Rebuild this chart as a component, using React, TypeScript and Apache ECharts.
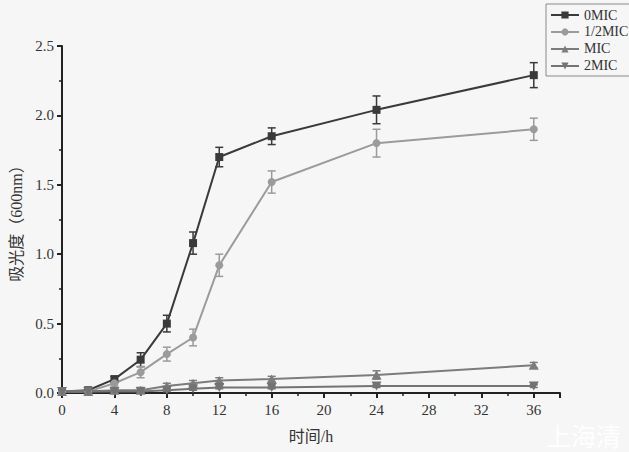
import React, { useEffect, useRef } from "react";
import * as echarts from "echarts";

const hours = [0, 2, 4, 6, 8, 10, 12, 16, 24, 36];
const seriesNames = ["0MIC", "1/2MIC", "MIC", "2MIC"];
const mic0 = [0.01, 0.02, 0.1, 0.24, 0.5, 1.08, 1.7, 1.85, 2.04, 2.29];
const mic0Err = [0.01, 0.01, 0.02, 0.05, 0.06, 0.08, 0.07, 0.06, 0.1, 0.09];
const micHalf = [0.01, 0.01, 0.07, 0.15, 0.28, 0.4, 0.92, 1.52, 1.8, 1.9];
const micHalfErr = [0.01, 0.01, 0.02, 0.04, 0.05, 0.06, 0.08, 0.08, 0.1, 0.08];
const mic1 = [0.01, 0.01, 0.02, 0.02, 0.05, 0.07, 0.09, 0.1, 0.13, 0.2];
const mic1Err = [0.01, 0.01, 0.01, 0.02, 0.02, 0.02, 0.02, 0.02, 0.03, 0.02];
const mic2 = [0.01, 0.01, 0.01, 0.01, 0.02, 0.03, 0.04, 0.04, 0.05, 0.05];
const mic2Err = [0.01, 0.01, 0.01, 0.01, 0.01, 0.01, 0.01, 0.01, 0.01, 0.01];
const xTicks = [0, 4, 8, 12, 16, 20, 24, 28, 32, 36];

const colors = ["#3a3a3a", "#9b9b9b", "#7c7c7c", "#737373"];
const symbols = ["rect", "circle", "triangle", "path://M0,0 L10,0 L5,9 Z"];
const values = [mic0, micHalf, mic1, mic2];
const errs = [mic0Err, micHalfErr, mic1Err, mic2Err];

const FONT = "Liberation Serif, Noto Sans CJK SC, serif";

export default function App() {
  const ref = useRef<HTMLDivElement>(null);
  useEffect(() => {
    const chart = echarts.init(ref.current!, undefined, { renderer: "svg" });
    const series: any[] = [];
    values.forEach((vals, si) => {
      series.push({
        type: "custom",
        name: seriesNames[si] + "-err",
        silent: true,
        z: 1,
        data: hours.map((h, i) => [h, vals[i] - errs[si][i], vals[i] + errs[si][i]]),
        renderItem: (params: any, api: any) => {
          const x = api.value(0);
          const lo = api.coord([x, api.value(1)]);
          const hi = api.coord([x, api.value(2)]);
          const hw = 4;
          const style = { stroke: colors[si], lineWidth: 1.5 };
          return {
            type: "group",
            children: [
              { type: "line", shape: { x1: lo[0], y1: lo[1], x2: hi[0], y2: hi[1] }, style },
              { type: "line", shape: { x1: lo[0] - hw, y1: lo[1], x2: lo[0] + hw, y2: lo[1] }, style },
              { type: "line", shape: { x1: hi[0] - hw, y1: hi[1], x2: hi[0] + hw, y2: hi[1] }, style },
            ],
          };
        },
      });
      series.push({
        type: "line",
        name: seriesNames[si],
        data: hours.map((h, i) => [h, vals[i]]),
        symbol: symbols[si],
        symbolSize: si >= 2 ? [10, 9] : 8,
        z: 3,
        lineStyle: { color: colors[si], width: 2 },
        itemStyle: { color: colors[si] },
      });
    });
    chart.setOption({
      animation: false,
      backgroundColor: "#f6f6f6",
      grid: { left: 56, right: 69, top: 46, bottom: 59, containLabel: false },
      legend: {
        data: seriesNames,
        orient: "vertical",
        left: 546,
        top: 4,
        itemWidth: 28,
        itemHeight: 9,
        itemGap: 3,
        padding: [4, 3, 3, 4],
        borderColor: "#8a8a8a",
        borderWidth: 1,
        textStyle: { fontFamily: FONT, fontSize: 14, color: "#333" },
      },
      xAxis: {
        type: "value",
        min: 0,
        max: 38,
        interval: 4,
        name: "时间/h",
        nameLocation: "middle",
        nameGap: 35,
        nameTextStyle: { fontFamily: FONT, fontSize: 16, color: "#333" },
        axisLine: { show: true, lineStyle: { color: "#222", width: 2 } },
        axisTick: { show: true, inside: false, length: 5, lineStyle: { color: "#222", width: 2 } },
        minorTick: { show: true, splitNumber: 2, length: 3, lineStyle: { color: "#222", width: 1.5 } },
        axisLabel: {
          fontFamily: FONT,
          fontSize: 15,
          color: "#333",
          margin: 9,
          formatter: (v: number) => (xTicks.includes(v) ? String(v) : ""),
        },
        splitLine: { show: false },
      },
      yAxis: {
        type: "value",
        min: 0,
        max: 2.5,
        interval: 0.5,
        name: "吸光度（600nm）",
        nameLocation: "middle",
        nameGap: 38,
        nameTextStyle: { fontFamily: FONT, fontSize: 16, color: "#333" },
        axisLine: { show: true, lineStyle: { color: "#222", width: 2 } },
        axisTick: { show: true, inside: false, length: 5, lineStyle: { color: "#222", width: 2 } },
        minorTick: { show: true, splitNumber: 2, length: 3, lineStyle: { color: "#222", width: 1.5 } },
        axisLabel: {
          fontFamily: FONT,
          fontSize: 15,
          color: "#333",
          margin: 8,
          formatter: (v: number) => v.toFixed(1),
        },
        splitLine: { show: false },
      },
      graphic: [
        {
          type: "text",
          left: 546,
          top: 422,
          silent: true,
          style: {
            text: "上海清",
            fill: "rgba(255,255,255,0.95)",
            fontSize: 25,
            fontFamily: "Noto Sans CJK SC, sans-serif",
          },
        },
      ],
      series,
    });
    return () => chart.dispose();
  }, []);
  return (
    <div
      ref={ref}
      style={{ position: "fixed", left: 0, top: 0, width: 629, height: 452 }}
    />
  );
}
